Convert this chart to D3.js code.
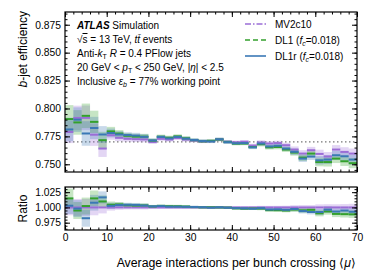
<!DOCTYPE html>
<html><head><meta charset="utf-8">
<script src="https://cdn.jsdelivr.net/npm/d3@7"></script>
<style>
body{margin:0;background:#fff;}
svg{font-family:"Liberation Sans",Arial,Helvetica,sans-serif;}
</style></head>
<body>
<svg id="c" width="374" height="280"></svg>
<script>
// ---- data ----
const binLo = [0,2,4,6,8,10,12,14,16,18,20,22,24,26,28,30,32,34,36,38,40,42,44,46,48,50,52,54,56,58,60,62,64,66,68];
const binHi = [2,4,6,8,10,12,14,16,18,20,22,24,26,28,30,32,34,36,38,40,42,44,46,48,50,52,54,56,58,60,62,64,66,68,70];
const mv2c10 = [0.7790,0.7915,0.7916,0.7765,0.7641,0.7760,0.7737,0.7728,0.7725,0.7722,0.7700,0.7728,0.7722,0.7735,0.7722,0.7712,0.7705,0.7708,0.7722,0.7702,0.7697,0.7702,0.7668,0.7695,0.7686,0.7690,0.7671,0.7632,0.7596,0.7626,0.7593,0.7570,0.7632,0.7611,0.7596];
const dl1    = [0.7905,0.7875,0.7934,0.7880,0.7716,0.7795,0.7776,0.7755,0.7748,0.7748,0.7712,0.7747,0.7738,0.7750,0.7733,0.7716,0.7706,0.7710,0.7722,0.7700,0.7685,0.7686,0.7655,0.7680,0.7652,0.7655,0.7632,0.7605,0.7560,0.7596,0.7520,0.7520,0.7551,0.7527,0.7510];
const dl1r   = [0.7812,0.7900,0.7776,0.7825,0.7767,0.7780,0.7767,0.7762,0.7757,0.7746,0.7714,0.7745,0.7732,0.7745,0.7730,0.7718,0.7708,0.7705,0.7724,0.7698,0.7688,0.7690,0.7652,0.7686,0.7660,0.7666,0.7641,0.7612,0.7551,0.7569,0.7536,0.7542,0.7581,0.7572,0.7542];
const errMv  = [0.0100,0.0110,0.0110,0.0100,0.0075,0.0040,0.0030,0.0025,0.0025,0.0025,0.0018,0.0018,0.0018,0.0018,0.0018,0.0015,0.0015,0.0015,0.0015,0.0015,0.0015,0.0015,0.0016,0.0020,0.0020,0.0021,0.0022,0.0028,0.0030,0.0030,0.0038,0.0040,0.0040,0.0042,0.0045];
const errDl1 = [0.0125,0.0110,0.0110,0.0100,0.0075,0.0040,0.0030,0.0025,0.0025,0.0025,0.0018,0.0018,0.0018,0.0018,0.0018,0.0015,0.0015,0.0015,0.0015,0.0015,0.0015,0.0015,0.0016,0.0020,0.0020,0.0021,0.0022,0.0028,0.0030,0.0030,0.0038,0.0040,0.0040,0.0042,0.0045];
const errDl1r= [0.0105,0.0110,0.0110,0.0100,0.0075,0.0040,0.0030,0.0025,0.0025,0.0025,0.0018,0.0018,0.0018,0.0018,0.0018,0.0015,0.0015,0.0015,0.0015,0.0015,0.0015,0.0015,0.0016,0.0020,0.0020,0.0021,0.0022,0.0028,0.0030,0.0030,0.0038,0.0040,0.0040,0.0042,0.0045];
const refEff = 0.77;
const xMajor = [0,10,20,30,40,50,60,70];
const yMajorMain = [0.750,0.775,0.800,0.825,0.850,0.875];
const yMajorRatio = [0.975,1.000,1.025];

const seriesDefs = [
  {name:"MV2c10", label:[["MV2c10",""]], v:mv2c10, e:errMv, color:"#9b6dd6", dash:"6,2,1.5,2"},
  {name:"DL1", label:[["DL1 (",""],["f","i"],["c","sub"],["=0.018)",""]], v:dl1, e:errDl1, color:"#33a02c", dash:"5,3"},
  {name:"DL1r", label:[["DL1r (",""],["f","i"],["c","sub"],["=0.018)",""]], v:dl1r, e:errDl1r, color:"#3a78b5", dash:null}
];

// ---- layout ----
const svg = d3.select("#c");
const L = 65, R = 357, T1 = 12, B1 = 172, T2 = 187, B2 = 230;
const x = d3.scaleLinear().domain([0,70]).range([L,R]);
const y1 = d3.scaleLinear().domain([0.7431,0.8864]).range([B1,T1]);
const y2 = d3.scaleLinear().domain([0.963,1.0335]).range([B2,T2]);

function axes(g, ys, yMaj, yMinStart, yMinEnd, top, bot, labelsX){
  const xMinor = d3.range(0,71,2);
  g.append("g").attr("transform",`translate(0,${bot})`)
    .call(d3.axisBottom(x).tickValues(xMinor).tickSize(-2.5).tickFormat(""));
  g.append("g").attr("transform",`translate(0,${bot})`)
    .call(d3.axisBottom(x).tickValues(xMajor).tickSize(-5).tickPadding(4).tickFormat(labelsX? d3.format("d") : ""));
  g.append("g").attr("transform",`translate(0,${top})`)
    .call(d3.axisTop(x).tickValues(xMinor).tickSize(-2.5).tickFormat(""));
  g.append("g").attr("transform",`translate(0,${top})`)
    .call(d3.axisTop(x).tickValues(xMajor).tickSize(-5).tickFormat(""));
  const yMinor = d3.range(Math.round(yMinStart*1000), Math.round(yMinEnd*1000)+1, 5).map(d=>d/1000);
  g.append("g").attr("transform",`translate(${L},0)`)
    .call(d3.axisLeft(ys).tickValues(yMinor).tickSize(-2.5).tickFormat(""));
  g.append("g").attr("transform",`translate(${L},0)`)
    .call(d3.axisLeft(ys).tickValues(yMaj).tickSize(-5).tickPadding(4).tickFormat(d3.format(".3f")));
  g.append("g").attr("transform",`translate(${R},0)`)
    .call(d3.axisRight(ys).tickValues(yMinor).tickSize(-2.5).tickFormat(""));
  g.append("g").attr("transform",`translate(${R},0)`)
    .call(d3.axisRight(ys).tickValues(yMaj).tickSize(-5).tickFormat(""));
  g.selectAll(".domain").remove();
  g.selectAll(".tick line").attr("stroke","#000").attr("stroke-width",1);
  g.selectAll(".tick text").attr("font-size",10.3).attr("fill","#000").attr("font-family","Liberation Sans, Arial, sans-serif");
  g.append("rect").attr("x",L).attr("y",top).attr("width",R-L).attr("height",bot-top)
    .attr("fill","none").attr("stroke","#000").attr("stroke-width",1.2);
}

// ---- main panel ----
const gMain = svg.append("g");
svg.append("clipPath").attr("id","cp1").append("rect").attr("x",L).attr("y",T1).attr("width",R-L).attr("height",B1-T1);
svg.append("clipPath").attr("id","cp2").append("rect").attr("x",L).attr("y",T2).attr("width",R-L).attr("height",B2-T2);
const pMain = gMain.append("g").attr("clip-path","url(#cp1)");

pMain.append("line").attr("x1",x(0)).attr("x2",x(70)).attr("y1",y1(refEff)).attr("y2",y1(refEff))
  .attr("stroke","#777").attr("stroke-width",1.2).attr("stroke-dasharray","1.5,2.5");

seriesDefs.forEach(s=>{
  pMain.selectAll(null).data(s.v).enter().append("rect")
    .attr("x",(d,i)=>x(binLo[i])).attr("width",(d,i)=>x(binHi[i])-x(binLo[i]))
    .attr("y",(d,i)=>y1(d+s.e[i])).attr("height",(d,i)=>y1(d-s.e[i])-y1(d+s.e[i]))
    .attr("fill",s.color).attr("fill-opacity",0.28);
});
seriesDefs.forEach(s=>{
  pMain.selectAll(null).data(s.v).enter().append("line")
    .attr("x1",(d,i)=>x(binLo[i])).attr("x2",(d,i)=>x(binHi[i]))
    .attr("y1",d=>y1(d)).attr("y2",d=>y1(d))
    .attr("stroke",s.color).attr("stroke-width",2);
});
axes(gMain, y1, yMajorMain, 0.745, 0.885, T1, B1, false);

// ---- ratio panel ----
const gRat = svg.append("g");
const pRat = gRat.append("g").attr("clip-path","url(#cp2)");
seriesDefs.forEach(s=>{
  pRat.selectAll(null).data(s.v).enter().append("rect")
    .attr("x",(d,i)=>x(binLo[i])).attr("width",(d,i)=>x(binHi[i])-x(binLo[i]))
    .attr("y",(d,i)=>y2((d+s.e[i])/mv2c10[i])).attr("height",(d,i)=>y2((d-s.e[i])/mv2c10[i])-y2((d+s.e[i])/mv2c10[i]))
    .attr("fill",s.color).attr("fill-opacity",0.28);
});
seriesDefs.forEach(s=>{
  pRat.selectAll(null).data(s.v).enter().append("line")
    .attr("x1",(d,i)=>x(binLo[i])).attr("x2",(d,i)=>x(binHi[i]))
    .attr("y1",(d,i)=>y2(d/mv2c10[i])).attr("y2",(d,i)=>y2(d/mv2c10[i]))
    .attr("stroke",s.color).attr("stroke-width",2);
});
axes(gRat, y2, yMajorRatio, 0.965, 1.030, T2, B2, true);

// ---- axis labels ----
const yl = svg.append("text").attr("transform",`translate(27,${T1-1}) rotate(-90)`)
  .attr("text-anchor","end").attr("font-size",12);
yl.append("tspan").attr("font-style","italic").text("b");
yl.append("tspan").text("-jet efficiency");
svg.append("text").attr("transform",`translate(27,${(T2+B2)/2}) rotate(-90)`)
  .attr("text-anchor","middle").attr("font-size",12).text("Ratio");
const xl = svg.append("text").attr("x",R-1).attr("y",267).attr("text-anchor","end").attr("font-size",12.3);
xl.append("tspan").text("Average interactions per bunch crossing ⟨");
xl.append("tspan").attr("font-style","italic").text("μ");
xl.append("tspan").text("⟩");

// ---- info text ----
const tx = 77, fs = 10;
function line(yy, parts){
  const t = svg.append("text").attr("x",tx).attr("y",yy).attr("font-size",fs);
  parts.forEach(p=>{
    const sp = t.append("tspan").text(p[0]);
    if(p[1]==="i") sp.attr("font-style","italic");
    if(p[1]==="bi") sp.attr("font-style","italic").attr("font-weight","bold");
    if(p[1]==="sub") sp.attr("font-size",7).attr("baseline-shift","-25%");
    if(p[1]==="isub") sp.attr("font-size",7).attr("baseline-shift","-25%").attr("font-style","italic");
    if(p[1]==="ol") sp.attr("text-decoration","overline");
  });
  return t;
}
line(29, [["ATLAS","bi"],[" Simulation",""]]);
line(43, [["√",""],["s","ol"],[" = 13 TeV, ",""],["t","i"],["t̄","i"],[" events",""]]);
line(57, [["Anti-",""],["k","i"],["T","sub"],[" ",""],["R","i"],[" = 0.4 PFlow jets",""]]);
line(71, [["20 GeV < ",""],["p","i"],["T","sub"],[" < 250 GeV, |",""],["η","i"],["| < 2.5",""]]);
line(85, [["Inclusive ",""],["ε","i"],["b","isub"],[" = 77% working point",""]]);

// ---- legend ----
seriesDefs.forEach((s,i)=>{
  const yy = 24 + i*16;
  svg.append("line").attr("x1",245).attr("x2",266).attr("y1",yy).attr("y2",yy)
    .attr("stroke",s.color).attr("stroke-width",1.6).attr("stroke-dasharray",s.dash);
  const t = svg.append("text").attr("x",275).attr("y",yy+3.5).attr("font-size",fs);
  s.label.forEach(p=>{
    const sp = t.append("tspan").text(p[0]);
    if(p[1]==="i") sp.attr("font-style","italic");
    if(p[1]==="sub") sp.attr("font-size",7).attr("baseline-shift","-25%").attr("font-style","italic");
  });
});
</script>
</body></html>
